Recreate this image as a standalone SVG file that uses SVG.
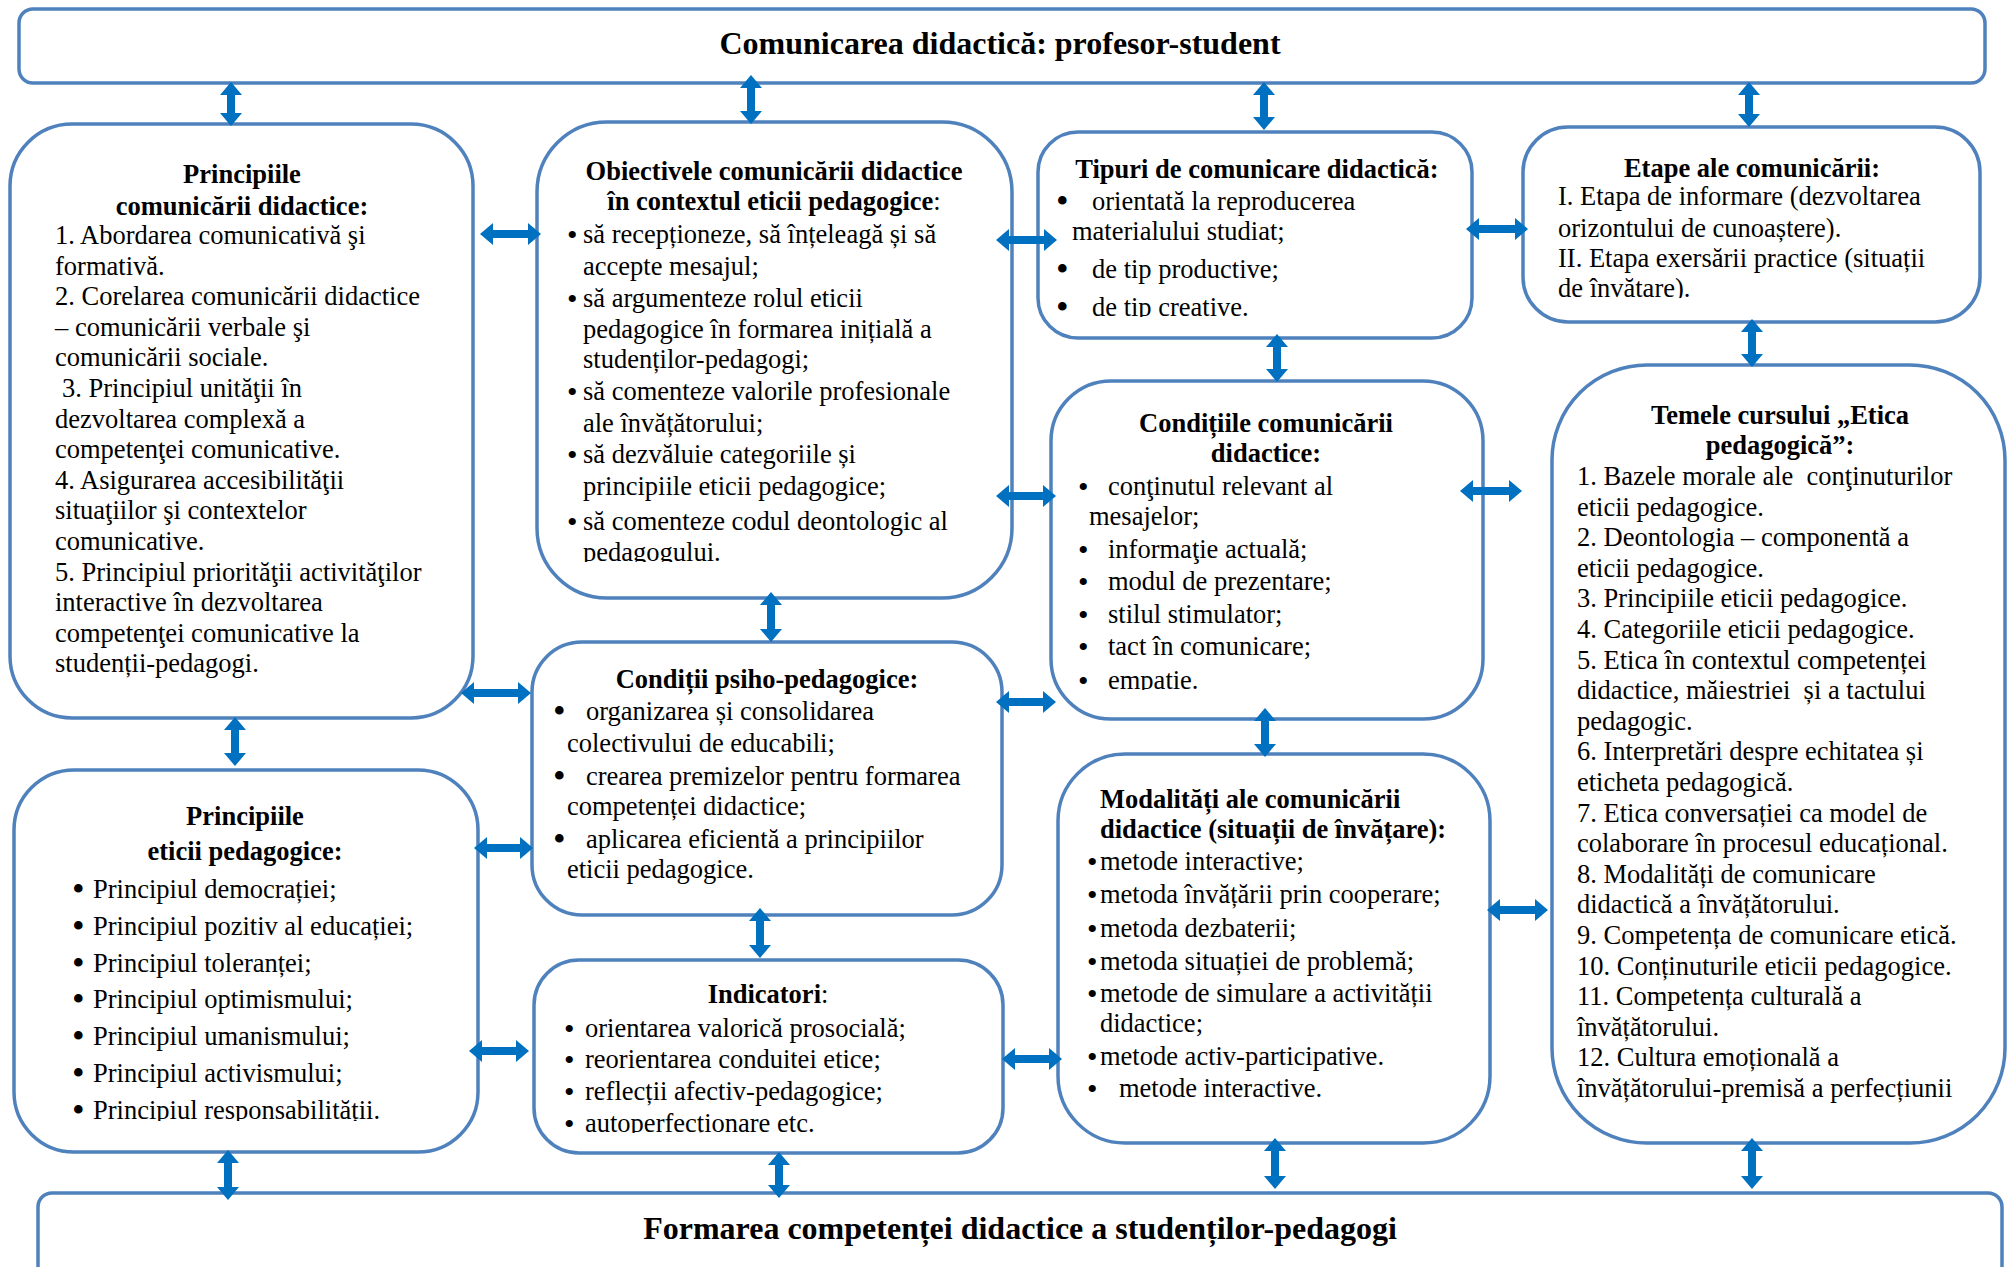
<svg xmlns="http://www.w3.org/2000/svg" width="2009" height="1267" viewBox="0 0 2009 1267">
<style>
.box{fill:#fff;stroke:#4F81BD;stroke-width:3.5}
.t{font-family:"Liberation Serif","Times New Roman",serif;font-size:26.5px;fill:#000}
.bl{font-size:36px}
.bs{font-size:30px}
.h{font-family:"Liberation Serif","Times New Roman",serif;font-size:32px;font-weight:bold;fill:#000;text-anchor:middle}
.b{font-weight:bold}
.c{text-anchor:middle}
.arr{stroke:#0070C0;stroke-width:8;fill:none;marker-start:url(#ah);marker-end:url(#ah)}
</style>
<defs>
<marker id="ah" viewBox="0 0 13 22" refX="1" refY="11" markerWidth="13" markerHeight="22" markerUnits="userSpaceOnUse" orient="auto-start-reverse"><path d="M0,0 L13,11 L0,22 z" fill="#0070C0"/></marker>
<clipPath id="clipB"><rect x="530" y="120" width="480" height="442"/></clipPath>
<clipPath id="clipC"><rect x="1030" y="130" width="440" height="187"/></clipPath>
<clipPath id="clipD"><rect x="1520" y="125" width="460" height="173"/></clipPath>
<clipPath id="clipE"><rect x="1050" y="380" width="430" height="310"/></clipPath>
<clipPath id="clipG"><rect x="10" y="770" width="465" height="351"/></clipPath>
<clipPath id="clipI"><rect x="530" y="958" width="470" height="175"/></clipPath>
</defs>

<g id="top">
<rect class="box" x="19" y="9" width="1966" height="74" rx="14"/>
<text class="h" x="1000" y="54">Comunicarea didactică: profesor-student</text>
</g>

<g id="bottom">
<rect class="box" x="38" y="1193" width="1964" height="100" rx="14"/>
<text class="h" x="1020" y="1239">Formarea competenței didactice a studenților-pedagogi</text>
</g>

<g id="principii-comunicare">
<rect class="box" x="10" y="124" width="463" height="594" rx="62"/>
<text class="t b c" x="242" y="183">Principiile</text>
<text class="t b c" x="242" y="215">comunicării didactice:</text>
<text class="t" x="55" y="244">
<tspan x="55">1. Abordarea comunicativă şi</tspan>
<tspan x="55" dy="30.6">formativă.</tspan>
<tspan x="55" dy="30.6">2. Corelarea comunicării didactice</tspan>
<tspan x="55" dy="30.6">– comunicării verbale şi</tspan>
<tspan x="55" dy="30.6">comunicării sociale.</tspan>
<tspan x="62" dy="30.6">3. Principiul unităţii în</tspan>
<tspan x="55" dy="30.6">dezvoltarea complexă a</tspan>
<tspan x="55" dy="30.6">competenţei comunicative.</tspan>
<tspan x="55" dy="30.6">4. Asigurarea accesibilităţii</tspan>
<tspan x="55" dy="30.6">situaţiilor şi contextelor</tspan>
<tspan x="55" dy="30.6">comunicative.</tspan>
<tspan x="55" dy="30.6">5. Principiul priorităţii activităţilor</tspan>
<tspan x="55" dy="30.6">interactive în dezvoltarea</tspan>
<tspan x="55" dy="30.6">competenţei comunicative la</tspan>
<tspan x="55" dy="30.6">studenții-pedagogi.</tspan>
</text>
</g>

<g id="obiective">
<rect class="box" x="537" y="122" width="475" height="476" rx="70"/>
<text class="t b c" x="774" y="180">Obiectivele comunicării didactice</text>
<text class="t c" x="774" y="210"><tspan class="b">în contextul eticii pedagogice</tspan>:</text>
<g clip-path="url(#clipB)">
<text class="t"><tspan class="bs" x="567" y="245">•</tspan><tspan x="583" y="243">să recepționeze, să înțeleagă și să</tspan></text>
<text class="t" x="583" y="275">accepte mesajul;</text>
<text class="t"><tspan class="bs" x="567" y="309">•</tspan><tspan x="583" y="307">să argumenteze rolul eticii</tspan></text>
<text class="t" x="583" y="338">pedagogice în formarea inițială a</text>
<text class="t" x="583" y="368">studenților-pedagogi;</text>
<text class="t"><tspan class="bs" x="567" y="402">•</tspan><tspan x="583" y="400">să comenteze valorile profesionale</tspan></text>
<text class="t" x="583" y="432">ale învățătorului;</text>
<text class="t"><tspan class="bs" x="567" y="465">•</tspan><tspan x="583" y="463">să dezvăluie categoriile și</tspan></text>
<text class="t" x="583" y="495">principiile eticii pedagogice;</text>
<text class="t"><tspan class="bs" x="567" y="532">•</tspan><tspan x="583" y="530">să comenteze codul deontologic al</tspan></text>
<text class="t" x="583" y="561">pedagogului.</text>
</g>
</g>

<g id="tipuri">
<rect class="box" x="1038" y="132" width="434" height="206" rx="40"/>
<text class="t b c" x="1257" y="178">Tipuri de comunicare didactică:</text>
<g clip-path="url(#clipC)">
<text class="t"><tspan class="bl" x="1056" y="213">•</tspan><tspan x="1092" y="210">orientată la reproducerea</tspan></text>
<text class="t" x="1072" y="240">materialului studiat;</text>
<text class="t"><tspan class="bl" x="1056" y="281">•</tspan><tspan x="1092" y="278">de tip productive;</tspan></text>
<text class="t"><tspan class="bl" x="1056" y="319">•</tspan><tspan x="1092" y="316">de tip creative.</tspan></text>
</g>
</g>

<g id="etape">
<rect class="box" x="1523" y="127" width="457" height="195" rx="45"/>
<text class="t b c" x="1752" y="177">Etape ale comunicării:</text>
<g clip-path="url(#clipD)">
<text class="t" x="1558" y="205">I. Etapa de informare (dezvoltarea</text>
<text class="t" x="1558" y="237">orizontului de cunoaștere).</text>
<text class="t" x="1558" y="267">II. Etapa exersării practice (situații</text>
<text class="t" x="1558" y="297">de învătare).</text>
</g>
</g>

<g id="conditii-comunicare">
<rect class="box" x="1051" y="381" width="432" height="338" rx="60"/>
<text class="t b c" x="1266" y="432">Condițiile comunicării</text>
<text class="t b c" x="1266" y="462">didactice:</text>
<g clip-path="url(#clipE)">
<text class="t"><tspan class="bs" x="1078" y="497">•</tspan><tspan x="1108" y="495">conţinutul relevant al</tspan></text>
<text class="t" x="1089" y="525">mesajelor;</text>
<text class="t"><tspan class="bs" x="1078" y="560">•</tspan><tspan x="1108" y="558">informaţie actuală;</tspan></text>
<text class="t"><tspan class="bs" x="1078" y="592">•</tspan><tspan x="1108" y="590">modul de prezentare;</tspan></text>
<text class="t"><tspan class="bs" x="1078" y="625">•</tspan><tspan x="1108" y="623">stilul stimulator;</tspan></text>
<text class="t"><tspan class="bs" x="1078" y="657">•</tspan><tspan x="1108" y="655">tact în comunicare;</tspan></text>
<text class="t"><tspan class="bs" x="1078" y="691">•</tspan><tspan x="1108" y="689">empatie.</tspan></text>
</g>
</g>

<g id="teme">
<rect class="box" x="1552" y="365" width="453" height="778" rx="95"/>
<text class="t b c" x="1780" y="424">Temele cursului „Etica</text>
<text class="t b c" x="1780" y="454">pedagogică”:</text>
<text class="t" x="1577" y="485">
<tspan x="1577">1. Bazele morale ale&#160; conţinuturilor</tspan>
<tspan x="1577" dy="30.6">eticii pedagogice.</tspan>
<tspan x="1577" dy="30.6">2. Deontologia – componentă a</tspan>
<tspan x="1577" dy="30.6">eticii pedagogice.</tspan>
<tspan x="1577" dy="30.6">3. Principiile eticii pedagogice.</tspan>
<tspan x="1577" dy="30.6">4. Categoriile eticii pedagogice.</tspan>
<tspan x="1577" dy="30.6">5. Etica în contextul competenței</tspan>
<tspan x="1577" dy="30.6">didactice, măiestriei&#160; și a tactului</tspan>
<tspan x="1577" dy="30.6">pedagogic.</tspan>
<tspan x="1577" dy="30.6">6. Interpretări despre echitatea și</tspan>
<tspan x="1577" dy="30.6">eticheta pedagogică.</tspan>
<tspan x="1577" dy="30.6">7. Etica conversației ca model de</tspan>
<tspan x="1577" dy="30.6">colaborare în procesul educațional.</tspan>
<tspan x="1577" dy="30.6">8. Modalități de comunicare</tspan>
<tspan x="1577" dy="30.6">didactică a învățătorului.</tspan>
<tspan x="1577" dy="30.6">9. Competența de comunicare etică.</tspan>
<tspan x="1577" dy="30.6">10. Conținuturile eticii pedagogice.</tspan>
<tspan x="1577" dy="30.6">11. Competența culturală a</tspan>
<tspan x="1577" dy="30.6">învățătorului.</tspan>
<tspan x="1577" dy="30.6">12. Cultura emoțională a</tspan>
<tspan x="1577" dy="30.6">învățătorului-premisă a perfecțiunii</tspan>
</text>
</g>

<g id="principii-etica">
<rect class="box" x="14" y="770" width="464" height="382" rx="60"/>
<text class="t b c" x="245" y="825">Principiile</text>
<text class="t b c" x="245" y="860">eticii pedagogice:</text>
<g clip-path="url(#clipG)">
<text class="t"><tspan class="bl" x="72" y="901">•</tspan><tspan x="93" y="898">Principiul democrației;</tspan></text>
<text class="t"><tspan class="bl" x="72" y="938">•</tspan><tspan x="93" y="935">Principiul pozitiv al educației;</tspan></text>
<text class="t"><tspan class="bl" x="72" y="975">•</tspan><tspan x="93" y="972">Principiul toleranței;</tspan></text>
<text class="t"><tspan class="bl" x="72" y="1011">•</tspan><tspan x="93" y="1008">Principiul optimismului;</tspan></text>
<text class="t"><tspan class="bl" x="72" y="1048">•</tspan><tspan x="93" y="1045">Principiul umanismului;</tspan></text>
<text class="t"><tspan class="bl" x="72" y="1085">•</tspan><tspan x="93" y="1082">Principiul activismului;</tspan></text>
<text class="t"><tspan class="bl" x="72" y="1122">•</tspan><tspan x="93" y="1119">Principiul responsabilității.</tspan></text>
</g>
</g>

<g id="conditii-psiho">
<rect class="box" x="532" y="642" width="470" height="273" rx="50"/>
<text class="t b c" x="767" y="688">Condiții psiho-pedagogice:</text>
<text class="t"><tspan class="bl" x="553" y="723">•</tspan><tspan x="586" y="720">organizarea și consolidarea</tspan></text>
<text class="t" x="567" y="752">colectivului de educabili;</text>
<text class="t"><tspan class="bl" x="553" y="788">•</tspan><tspan x="586" y="785">crearea premizelor pentru formarea</tspan></text>
<text class="t" x="567" y="815">competenței didactice;</text>
<text class="t"><tspan class="bl" x="553" y="851">•</tspan><tspan x="586" y="848">aplicarea eficientă a principiilor</tspan></text>
<text class="t" x="567" y="878">eticii pedagogice.</text>
</g>

<g id="indicatori">
<rect class="box" x="534" y="960" width="469" height="193" rx="45"/>
<text class="t c" x="768" y="1003"><tspan class="b">Indicatori</tspan>:</text>
<g clip-path="url(#clipI)">
<text class="t"><tspan class="bs" x="564" y="1039">•</tspan><tspan x="585" y="1037">orientarea valorică prosocială;</tspan></text>
<text class="t"><tspan class="bs" x="564" y="1070">•</tspan><tspan x="585" y="1068">reorientarea conduitei etice;</tspan></text>
<text class="t"><tspan class="bs" x="564" y="1102">•</tspan><tspan x="585" y="1100">reflecții afectiv-pedagogice;</tspan></text>
<text class="t"><tspan class="bs" x="564" y="1134">•</tspan><tspan x="585" y="1132">autoperfecționare etc.</tspan></text>
</g>
</g>

<g id="modalitati">
<rect class="box" x="1058" y="754" width="432" height="389" rx="67"/>
<text class="t b" x="1100" y="808">Modalități ale comunicării</text>
<text class="t b" x="1100" y="838">didactice (situații de învățare):</text>
<text class="t"><tspan class="bs" x="1087" y="872">•</tspan><tspan x="1100" y="870">metode interactive;</tspan></text>
<text class="t"><tspan class="bs" x="1087" y="905">•</tspan><tspan x="1100" y="903">metoda învățării prin cooperare;</tspan></text>
<text class="t"><tspan class="bs" x="1087" y="939">•</tspan><tspan x="1100" y="937">metoda dezbaterii;</tspan></text>
<text class="t"><tspan class="bs" x="1087" y="972">•</tspan><tspan x="1100" y="970">metoda situației de problemă;</tspan></text>
<text class="t"><tspan class="bs" x="1087" y="1004">•</tspan><tspan x="1100" y="1002">metode de simulare a activității</tspan></text>
<text class="t" x="1100" y="1032">didactice;</text>
<text class="t"><tspan class="bs" x="1087" y="1067">•</tspan><tspan x="1100" y="1065">metode activ-participative.</tspan></text>
<text class="t"><tspan class="bs" x="1087" y="1099">•</tspan><tspan x="1119" y="1097">metode interactive.</tspan></text>
</g>

<g id="connectors">
<line class="arr" x1="231" y1="94" x2="231" y2="114"/>
<line class="arr" x1="751" y1="87" x2="751" y2="112"/>
<line class="arr" x1="1264" y1="94" x2="1264" y2="118"/>
<line class="arr" x1="1749" y1="94" x2="1749" y2="115"/>
<line class="arr" x1="235" y1="729" x2="235" y2="754"/>
<line class="arr" x1="771" y1="604" x2="771" y2="630"/>
<line class="arr" x1="760" y1="920" x2="760" y2="946"/>
<line class="arr" x1="1277" y1="346" x2="1277" y2="370"/>
<line class="arr" x1="1265" y1="720" x2="1265" y2="745"/>
<line class="arr" x1="1752" y1="331" x2="1752" y2="355"/>
<line class="arr" x1="228" y1="1162" x2="228" y2="1188"/>
<line class="arr" x1="779" y1="1164" x2="779" y2="1186"/>
<line class="arr" x1="1275" y1="1150" x2="1275" y2="1177"/>
<line class="arr" x1="1752" y1="1150" x2="1752" y2="1177"/>
<line class="arr" x1="492" y1="234" x2="529" y2="234"/>
<line class="arr" x1="473" y1="693" x2="519" y2="693"/>
<line class="arr" x1="486" y1="848" x2="521" y2="848"/>
<line class="arr" x1="481" y1="1051" x2="517" y2="1051"/>
<line class="arr" x1="1008" y1="240" x2="1045" y2="240"/>
<line class="arr" x1="1008" y1="496" x2="1044" y2="496"/>
<line class="arr" x1="1008" y1="702" x2="1044" y2="702"/>
<line class="arr" x1="1014" y1="1059" x2="1050" y2="1059"/>
<line class="arr" x1="1478" y1="229" x2="1516" y2="229"/>
<line class="arr" x1="1472" y1="491" x2="1510" y2="491"/>
<line class="arr" x1="1499" y1="910" x2="1536" y2="910"/>
</g>
</svg>
